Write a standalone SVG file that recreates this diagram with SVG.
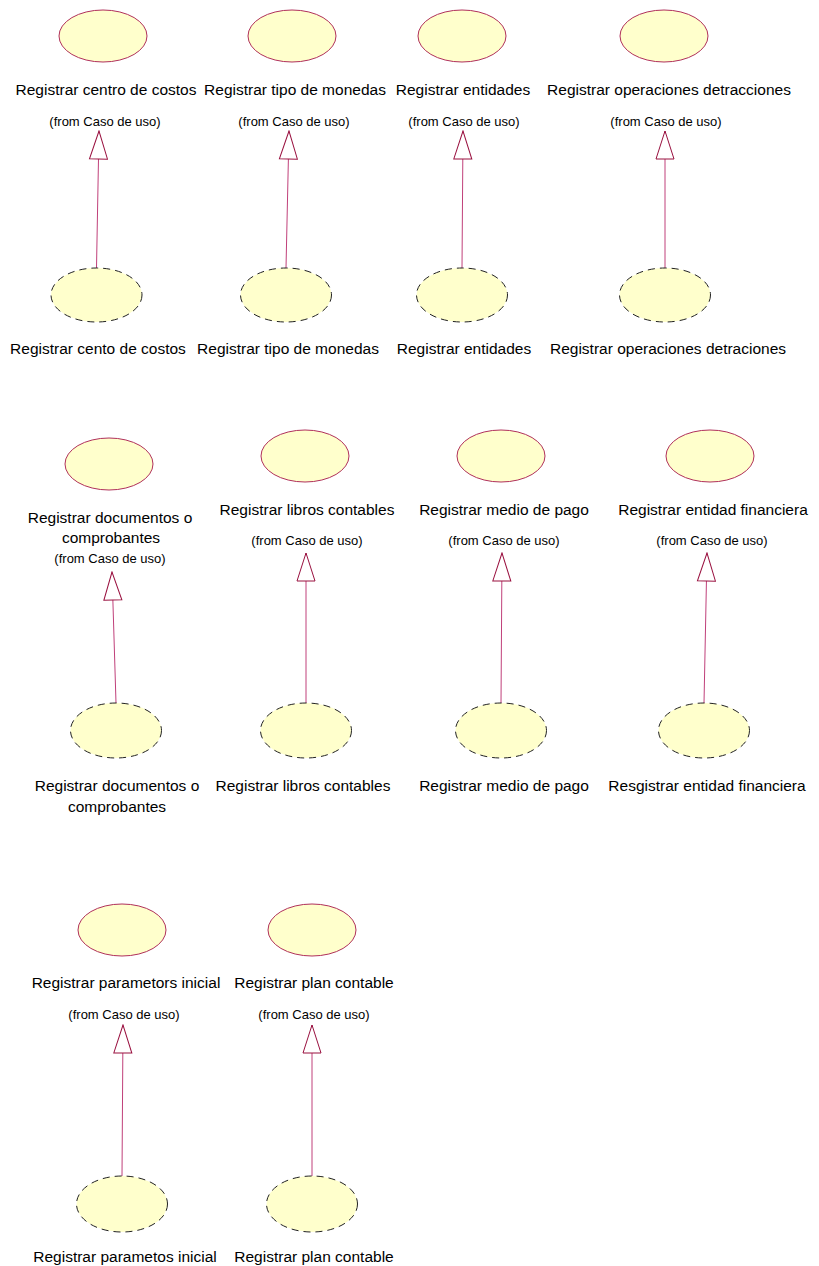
<svg xmlns="http://www.w3.org/2000/svg" width="819" height="1266" viewBox="0 0 819 1266">
  <style>
    .uc { fill: #FFFFCC; stroke: #B0305A; stroke-width: 1; }
    .real { fill: #FFFFCC; stroke: #222222; stroke-width: 1; stroke-dasharray: 7 5; }
    .lbl { font-family: "Liberation Sans", Arial, sans-serif; font-size: 15.5px; fill: #000000; text-anchor: middle; }
    .from { font-family: "Liberation Sans", Arial, sans-serif; font-size: 13px; fill: #000000; text-anchor: middle; }
    .gen { fill: none; stroke: #C0407A; stroke-width: 1; marker-end: url(#hollow); }
  </style>
  <defs>
    <marker id="hollow" markerUnits="userSpaceOnUse" viewBox="0 0 30 20" markerWidth="30" markerHeight="20" refX="29" refY="10" orient="auto">
      <path d="M29,10 L1,1 L1,19 Z" fill="#FFFFFF" stroke="#99103F" stroke-width="1"/>
    </marker>
  </defs>
  <rect x="0" y="0" width="819" height="1266" fill="#FFFFFF"/>

  <!-- generalization connectors: realization ellipse up to use case -->
  <g id="connectors">
    <path class="gen" d="M96.5,268 L99,131"/>
    <path class="gen" d="M286,268 L289,131"/>
    <path class="gen" d="M462,268 L463,131"/>
    <path class="gen" d="M665,268 L665,131"/>
    <path class="gen" d="M116,703 L112,572"/>
    <path class="gen" d="M306,703 L306,553"/>
    <path class="gen" d="M501,703 L502,553"/>
    <path class="gen" d="M704,703 L707,553"/>
    <path class="gen" d="M122,1176 L123,1025"/>
    <path class="gen" d="M312,1176 L312,1025"/>
  </g>

  <!-- row 1: use cases -->
  <g id="uc-centro-costos">
    <ellipse class="uc" cx="103" cy="36" rx="44" ry="26"/>
    <text class="lbl" x="106" y="95">Registrar centro de costos</text>
    <text class="from" x="105" y="126">(from Caso de uso)</text>
  </g>
  <g id="uc-tipo-monedas">
    <ellipse class="uc" cx="292" cy="36" rx="44" ry="26"/>
    <text class="lbl" x="295" y="95">Registrar tipo de monedas</text>
    <text class="from" x="294" y="126">(from Caso de uso)</text>
  </g>
  <g id="uc-entidades">
    <ellipse class="uc" cx="462" cy="36" rx="44" ry="26"/>
    <text class="lbl" x="463" y="95">Registrar entidades</text>
    <text class="from" x="464" y="126">(from Caso de uso)</text>
  </g>
  <g id="uc-detracciones">
    <ellipse class="uc" cx="664" cy="36" rx="44" ry="26"/>
    <text class="lbl" x="669" y="95">Registrar operaciones detracciones</text>
    <text class="from" x="666" y="126">(from Caso de uso)</text>
  </g>

  <!-- row 1: realizations -->
  <g id="ur-centro-costos">
    <ellipse class="real" cx="96.5" cy="295" rx="45.5" ry="27"/>
    <text class="lbl" x="98" y="354">Registrar cento de costos</text>
  </g>
  <g id="ur-tipo-monedas">
    <ellipse class="real" cx="286" cy="295" rx="45.5" ry="27"/>
    <text class="lbl" x="288" y="354">Registrar tipo de monedas</text>
  </g>
  <g id="ur-entidades">
    <ellipse class="real" cx="462" cy="295" rx="45.5" ry="27"/>
    <text class="lbl" x="464" y="354">Registrar entidades</text>
  </g>
  <g id="ur-detracciones">
    <ellipse class="real" cx="665" cy="295" rx="45.5" ry="27"/>
    <text class="lbl" x="668" y="354">Registrar operaciones detraciones</text>
  </g>

  <!-- row 2: use cases -->
  <g id="uc-documentos">
    <ellipse class="uc" cx="109" cy="464" rx="44" ry="26"/>
    <text class="lbl" x="110" y="523">Registrar documentos o</text>
    <text class="lbl" x="111" y="543">comprobantes</text>
    <text class="from" x="110" y="563">(from Caso de uso)</text>
  </g>
  <g id="uc-libros">
    <ellipse class="uc" cx="305" cy="456" rx="44" ry="26"/>
    <text class="lbl" x="307" y="515">Registrar libros contables</text>
    <text class="from" x="307" y="545">(from Caso de uso)</text>
  </g>
  <g id="uc-medio-pago">
    <ellipse class="uc" cx="501" cy="456" rx="44" ry="26"/>
    <text class="lbl" x="504" y="515">Registrar medio de pago</text>
    <text class="from" x="504" y="545">(from Caso de uso)</text>
  </g>
  <g id="uc-entidad-financiera">
    <ellipse class="uc" cx="710" cy="456" rx="44" ry="26"/>
    <text class="lbl" x="713" y="515">Registrar entidad financiera</text>
    <text class="from" x="712" y="545">(from Caso de uso)</text>
  </g>

  <!-- row 2: realizations -->
  <g id="ur-documentos">
    <ellipse class="real" cx="116" cy="730.5" rx="45.5" ry="27.5"/>
    <text class="lbl" x="117" y="791">Registrar documentos o</text>
    <text class="lbl" x="117" y="812">comprobantes</text>
  </g>
  <g id="ur-libros">
    <ellipse class="real" cx="306" cy="730.5" rx="45.5" ry="27.5"/>
    <text class="lbl" x="303" y="791">Registrar libros contables</text>
  </g>
  <g id="ur-medio-pago">
    <ellipse class="real" cx="501" cy="730.5" rx="45.5" ry="27.5"/>
    <text class="lbl" x="504" y="791">Registrar medio de pago</text>
  </g>
  <g id="ur-entidad-financiera">
    <ellipse class="real" cx="704" cy="730.5" rx="45.5" ry="27.5"/>
    <text class="lbl" x="707" y="791">Resgistrar entidad financiera</text>
  </g>

  <!-- row 3: use cases -->
  <g id="uc-parametros">
    <ellipse class="uc" cx="122" cy="930" rx="44" ry="26"/>
    <text class="lbl" x="126" y="988">Registrar parametors inicial</text>
    <text class="from" x="124" y="1019">(from Caso de uso)</text>
  </g>
  <g id="uc-plan-contable">
    <ellipse class="uc" cx="312" cy="930" rx="44" ry="26"/>
    <text class="lbl" x="314" y="988">Registrar plan contable</text>
    <text class="from" x="314" y="1019">(from Caso de uso)</text>
  </g>

  <!-- row 3: realizations -->
  <g id="ur-parametros">
    <ellipse class="real" cx="122" cy="1204" rx="45.5" ry="28"/>
    <text class="lbl" x="125" y="1262">Registrar parametos inicial</text>
  </g>
  <g id="ur-plan-contable">
    <ellipse class="real" cx="312" cy="1204" rx="45.5" ry="28"/>
    <text class="lbl" x="314" y="1262">Registrar plan contable</text>
  </g>
</svg>
